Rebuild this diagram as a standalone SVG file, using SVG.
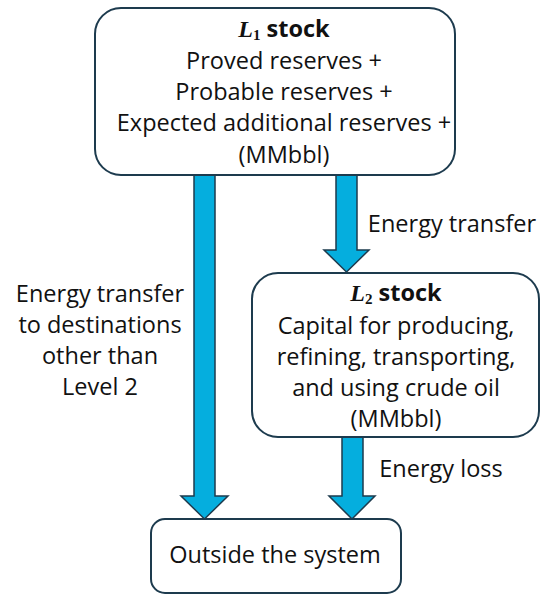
<svg xmlns="http://www.w3.org/2000/svg" width="550" height="600" viewBox="0 0 550 600">
<style>
.box{fill:#fff;stroke:#1d3b4e;stroke-width:2}
.arr{fill:#05aede;stroke:#1d3b4e;stroke-width:1.5;stroke-linejoin:miter}
text{font-family:"Open Sans","Liberation Sans",sans-serif;font-size:23.5px;fill:#111;text-anchor:middle}
.b{font-weight:bold}
.m{font-family:"Liberation Serif",serif;font-style:italic;font-weight:bold}
.s{font-family:"Liberation Serif",serif;font-weight:bold;font-size:15px}
</style>
<rect width="550" height="600" fill="#fff"/>
<g id="connectors">
<path class="arr" d="M194,174 H215 V496 H228 L204.5,519 L181,496 H194 Z"/>
<path class="arr" d="M336,174 H357 V250 H369 L346.5,272 L324,250 H336 Z"/>
<path class="arr" d="M342,437 H363 V496 H375 L352,519 L329,496 H342 Z"/>
</g>
<g id="L1">
<rect class="box" x="95" y="8" width="360" height="167" rx="26"/>
<text x="284" y="37"><tspan class="m" font-size="24">L</tspan><tspan class="s" dy="3">1</tspan><tspan class="b" dy="-3"> stock</tspan></text>
<text x="284" y="69">Proved reserves +</text>
<text x="284" y="100">Probable reserves +</text>
<text x="284" y="131">Expected additional reserves +</text>
<text x="284" y="163">(MMbbl)</text>
</g>
<g id="L2">
<rect class="box" x="252" y="273" width="287" height="164" rx="26"/>
<text x="396" y="301"><tspan class="m" font-size="24">L</tspan><tspan class="s" dy="3">2</tspan><tspan class="b" dy="-3"> stock</tspan></text>
<text x="396" y="334">Capital for producing,</text>
<text x="396" y="365">refining, transporting,</text>
<text x="396" y="396">and using crude oil</text>
<text x="396" y="427">(MMbbl)</text>
</g>
<g id="outside">
<rect class="box" x="151" y="519" width="250" height="74" rx="14"/>
<text x="275" y="563">Outside the system</text>
</g>
<g id="labels">
<text x="452" y="232">Energy transfer</text>
<text x="100" y="302">Energy transfer</text>
<text x="100" y="333">to destinations</text>
<text x="100" y="364">other than</text>
<text x="100" y="395">Level 2</text>
<text x="441" y="477">Energy loss</text>
</g>
</svg>
